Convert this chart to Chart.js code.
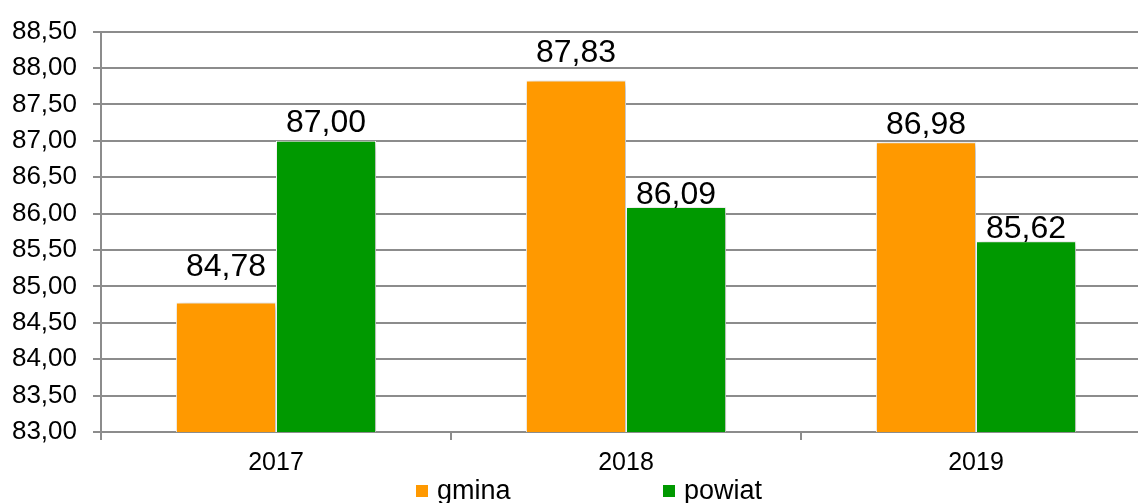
<!DOCTYPE html>
<html>
<head>
<meta charset="utf-8">
<script src="https://cdn.jsdelivr.net/npm/chart.js@4/dist/chart.umd.min.js"></script>
<style>
  html, body { margin: 0; padding: 0; background: #fff; overflow: hidden; }
  #wrap { position: relative; width: 1138px; height: 503px; overflow: hidden; }
  canvas { position: absolute; left: 0; top: 0; }
  .leg { position: absolute; top: 475px; font: 27px "Liberation Sans", Arial, sans-serif; color: #000; white-space: nowrap; }
  .leg i { position: absolute; left: 0; top: 10px; width: 12px; height: 12px; }
  .leg span { position: absolute; left: 21px; top: 0; }
</style>
</head>
<body>
<div id="wrap">
  <canvas id="chart" width="1152" height="503"></canvas>
  <div class="leg" style="left:416px"><i style="background:#ff9900"></i><span>gmina</span></div>
  <div class="leg" style="left:663px"><i style="background:#009900"></i><span>powiat</span></div>
</div>
<script>
// categories and values
const years = ["2017", "2018", "2019"];
const gmina = [84.78, 87.83, 86.98];
const powiat = [87.0, 86.09, 85.62];
const yMin = 83;
const yMax = 88.5;
const yStep = 0.5;

// gap between label baseline and bar top (px), per series
const labelGap = [
  [26, 18, 8],
  [9, 3, 3],
];

function fmt(v) {
  return v.toFixed(2).replace(".", ",");
}

// soft shadow behind bars
const barShadow = {
  id: "barShadow",
  beforeDatasetDraw(chart) {
    const ctx = chart.ctx;
    ctx.save();
    ctx.shadowColor = "rgba(0,0,0,0.3)";
    ctx.shadowBlur = 8;
    ctx.shadowOffsetX = 3;
    ctx.shadowOffsetY = 2;
  },
  afterDatasetDraw(chart) {
    chart.ctx.restore();
  },
};

// value labels above the bars
const valueLabels = {
  id: "valueLabels",
  afterDatasetsDraw(chart) {
    const ctx = chart.ctx;
    ctx.save();
    ctx.font = '32px "Liberation Sans", Arial, sans-serif';
    ctx.fillStyle = "#000";
    ctx.textAlign = "center";
    ctx.textBaseline = "alphabetic";
    chart.data.datasets.forEach((ds, di) => {
      chart.getDatasetMeta(di).data.forEach((bar, i) => {
        ctx.fillText(fmt(ds.data[i]), bar.x, bar.y - labelGap[di][i]);
      });
    });
    ctx.restore();
  },
};

const ctx = document.getElementById("chart").getContext("2d");
new Chart(ctx, {
  type: "bar",
  data: {
    labels: years,
    datasets: [
      {
        label: "gmina",
        data: gmina,
        backgroundColor: "#ff9900",
        borderColor: "#ffffff",
        borderWidth: 1,
      },
      {
        label: "powiat",
        data: powiat,
        backgroundColor: "#009900",
        borderColor: "#ffffff",
        borderWidth: 1,
      },
    ],
  },
  options: {
    responsive: false,
    animation: false,
    layout: { padding: { top: 27, right: 1, left: 0, bottom: 0 } },
    datasets: {
      bar: { categoryPercentage: 0.572, barPercentage: 1.0 },
    },
    plugins: {
      legend: { display: false },
      tooltip: { enabled: false },
    },
    scales: {
      x: {
        afterFit(scale) {
          scale.height = 71;
        },
        grid: {
          offset: true,
          drawOnChartArea: false,
          tickLength: 8,
          color: "#8c8c8c",
          lineWidth: 2,
        },
        border: { color: "#8c8c8c", width: 2 },
        ticks: {
          color: "#000",
          padding: 8,
          font: { family: '"Liberation Sans", Arial, sans-serif', size: 25 },
        },
      },
      y: {
        min: yMin,
        max: yMax,
        afterFit(scale) {
          scale.width = 101;
        },
        grid: {
          tickLength: 8,
          color: "#8c8c8c",
          lineWidth: 2,
        },
        border: { color: "#8c8c8c", width: 2 },
        ticks: {
          stepSize: yStep,
          color: "#000",
          padding: 16,
          font: { family: '"Liberation Sans", Arial, sans-serif', size: 26 },
          callback: (v) => fmt(v),
        },
      },
    },
  },
  plugins: [barShadow, valueLabels],
});
</script>
</body>
</html>
